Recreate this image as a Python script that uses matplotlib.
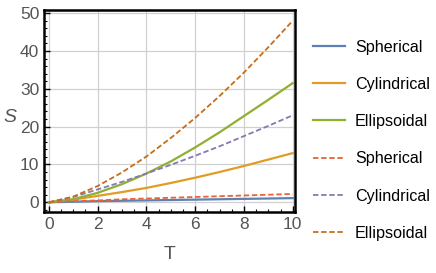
import matplotlib
matplotlib.use("Agg")
import matplotlib.pyplot as plt
from matplotlib.ticker import MultipleLocator

plt.rcParams['font.family'] = ['Liberation Sans', 'DejaVu Sans']

T = [0, 1, 2, 3, 4, 5, 6, 7, 8, 9, 10]
sph_solid = [0, 0.15, 0.3, 0.4, 0.5, 0.6, 0.7, 0.8, 0.9, 1.0, 1.1]
cyl_solid = [0, 0.7, 1.7, 2.7, 3.8, 5.1, 6.5, 8.0, 9.6, 11.3, 13.0]
ell_solid = [0, 0.8, 2.5, 4.8, 7.6, 10.8, 14.5, 18.5, 22.8, 27.1, 31.5]
sph_dash = [0, 0.3, 0.5, 0.8, 1.0, 1.2, 1.4, 1.6, 1.8, 2.0, 2.2]
cyl_dash = [0, 1.4, 3.4, 5.4, 7.6, 9.9, 12.3, 14.8, 17.5, 20.2, 23.0]
ell_dash = [0, 1.5, 4.3, 7.9, 12.1, 17.0, 22.3, 28.1, 34.3, 41.0, 48.0]

fig = plt.figure(figsize=(4.36, 2.73), dpi=100)
ax = fig.add_axes([0.101, 0.223, 0.576, 0.74])

ax.plot(T, sph_solid, color="#5E81B5", lw=1.6, label="Spherical")
ax.plot(T, cyl_solid, color="#E19C24", lw=1.6, label="Cylindrical")
ax.plot(T, ell_solid, color="#8FB032", lw=1.6, label="Ellipsoidal")
ax.plot(T, sph_dash, color="#EB6235", lw=1.3, ls=(0, (3, 1.5)), label="Spherical")
ax.plot(T, cyl_dash, color="#8778B3", lw=1.3, ls=(0, (3, 1.5)), label="Cylindrical")
ax.plot(T, ell_dash, color="#C56E1A", lw=1.3, ls=(0, (3, 1.5)), label="Ellipsoidal")

ax.set_xlim(-0.2, 10.1)
ax.set_ylim(-2.6, 50.8)
ax.xaxis.set_major_locator(MultipleLocator(2))
ax.xaxis.set_minor_locator(MultipleLocator(0.5))
ax.yaxis.set_major_locator(MultipleLocator(10))
ax.yaxis.set_minor_locator(MultipleLocator(2))
ax.grid(True, color="#d0d0d0", lw=0.9)
ax.tick_params(which="both", direction="in", colors="black", labelcolor="#555555",
               labelsize=12.5, top=False, right=False)
ax.tick_params(which="major", length=4, width=1)
ax.tick_params(which="minor", length=2, width=0.8)
for s in ax.spines.values():
    s.set_linewidth(1.8)
    s.set_color("black")

ax.set_xlabel("T", fontsize=14, color="#555555", labelpad=10)
ax.set_ylabel("S", fontsize=14, color="#555555", style="italic",
              rotation=0, ha="center", va="center")
ax.yaxis.set_label_coords(-0.135, 0.47)

fig.legend(loc="upper left", bbox_to_anchor=(0.718, 0.855), frameon=False,
           borderpad=0, borderaxespad=0,
           fontsize=11.6, handlelength=2.0, handletextpad=0.6, labelspacing=1.38)

fig.savefig("out.png", dpi=100)
